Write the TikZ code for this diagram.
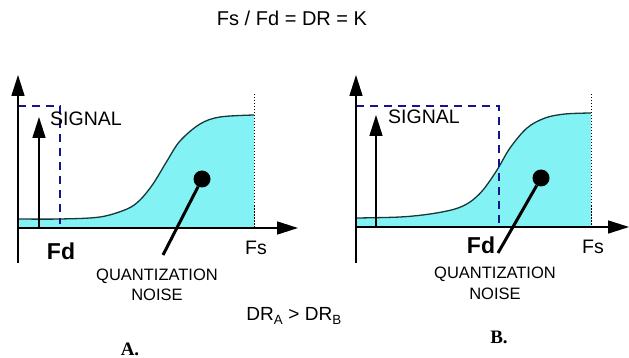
\documentclass[tikz,border=0pt]{standalone}
\usepackage{fontspec}
\setmainfont{Liberation Sans}
\newfontfamily\serifbf{Liberation Serif}
\usetikzlibrary{arrows.meta}
\definecolor{noisefill}{RGB}{130,242,245}
\definecolor{dashblue}{RGB}{20,20,140}
\definecolor{curveline}{RGB}{25,55,55}
\begin{document}
\begin{tikzpicture}[x=1pt,y=-1pt,
  axis/.style={line width=1.6pt, -{Triangle[length=21pt,width=13pt]}},
  sigarrow/.style={line width=1.6pt, -{Triangle[length=21pt,width=13pt]}},
  bound/.style={dashblue, line width=2.8pt, dash pattern=on 8pt off 6pt},
  noisecurve/.style={curveline, line width=1.3pt},
  fsline/.style={line width=0.7pt, dash pattern=on 1.5pt off 1.5pt},
  qdot/.style={circle, fill=black, minimum width=17pt, minimum height=16pt, inner sep=0pt},
  qline/.style={line width=3pt},
  lbl/.style={inner sep=0pt, font=\fontsize{19.5}{21}\selectfont},
  fdlbl/.style={inner sep=0pt, font=\fontsize{23}{25}\selectfont\bfseries},
  qlbl/.style={inner sep=0pt, align=center, font=\fontsize{16.5}{19}\selectfont},
  panel/.style={inner sep=0pt, font=\fontsize{19}{21}\selectfont\serifbf\bfseries}
]
\useasboundingbox (0,0) rectangle (629,358);

% ---------- Panel A ----------
\fill[noisefill] (18,228) -- plot[smooth, tension=0.55] coordinates {(18,219) (60,219) (100,217) (127,209) (140,200) (153,184) (167,161) (180,141) (200,124) (220,117) (254,115)} -- (254,228) -- cycle;
\draw[noisecurve] plot[smooth, tension=0.55] coordinates {(18,219) (60,219) (100,217) (127,209) (140,200) (153,184) (167,161) (180,141) (200,124) (220,117) (254,115)};
\draw[fsline] (254,94) -- (254,228);
\draw[bound] (18,106) -- (60,106) -- (60,224);
\draw[axis] (18,263) -- (18,75);
\draw[axis] (18,228) -- (298,228);
\draw[sigarrow] (39,228) -- (39,117);
\node[qdot] (dotA) at (202,179) {};
\coordinate (endA) at (163,255);
\draw[qline] (dotA) -- (endA);
\node[lbl, anchor=west] (sigA) at (50,119) {SIGNAL};
\node[fdlbl] (fdA) at (61,251) {Fd};
\node[lbl] (fsA) at (256,248) {Fs};
\node[qlbl] (qA) at (157,276) {QUANTIZATION};
\node[qlbl] (nA) at (157,295) {NOISE};
\node[panel] (pA) at (130,349) {A.};

% ---------- Panel B ----------
\fill[noisefill] (356,227) -- plot[smooth, tension=0.55] coordinates {(356,218) (400,217) (430,214) (455,209) (470,202) (483,190) (497,170) (510,148) (527,128) (545,118) (565,114) (591,113)} -- (591,227) -- cycle;
\draw[noisecurve] plot[smooth, tension=0.55] coordinates {(356,218) (400,217) (430,214) (455,209) (470,202) (483,190) (497,170) (510,148) (527,128) (545,118) (565,114) (591,113)};
\draw[fsline] (591,94) -- (591,227);
\draw[bound] (356,106) -- (499,106) -- (499,224);
\draw[axis] (356,263) -- (356,75);
\draw[axis] (356,227) -- (629,227);
\draw[sigarrow] (376,227) -- (376,115);
\node[qdot] (dotB) at (541,178) {};
\coordinate (endB) at (498,253);
\draw[qline] (dotB) -- (endB);
\node[lbl, anchor=west] (sigB) at (388,117) {SIGNAL};
\node[fdlbl] (fdB) at (481,245) {Fd};
\node[lbl] (fsB) at (593,247) {Fs};
\node[qlbl] (qB) at (495,274) {QUANTIZATION};
\node[qlbl] (nB) at (495,294) {NOISE};
\node[panel] (pB) at (499,337) {B.};

% ---------- shared texts ----------
\node[inner sep=0pt, font=\fontsize{20}{22}\selectfont] (title) at (292,18) {Fs / Fd = DR = K};
\node[inner sep=0pt, font=\fontsize{19}{21}\selectfont] (dr) at (294,316) {DR\textsubscript{A} > DR\textsubscript{B}};
\end{tikzpicture}
\end{document}
